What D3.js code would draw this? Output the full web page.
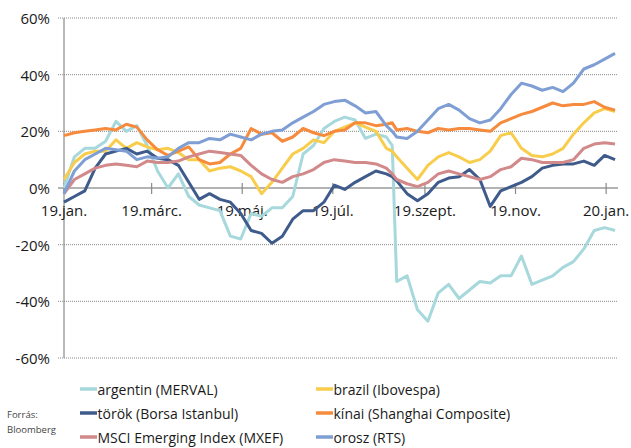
<!DOCTYPE html>
<html>
<head>
<meta charset="utf-8">
<script src="https://cdn.jsdelivr.net/npm/d3@7"></script>
<style>
  body { margin: 0; background: #fff; }
  text { font-family: "Open Sans", sans-serif; fill: #1a1a1a; }
</style>
</head>
<body>
<div class="chart"></div>
<script>
// napok 2019.01.01-tól (heti minták + a 2019.08.09-i nap)
var days = [0,7,14,21,28,35,42,49,56,63,70,77,84,91,98,105,112,119,126,133,140,147,154,161,168,175,182,189,196,203,210,217,221,
  224,231,238,245,252,259,266,273,280,287,294,301,308,315,322,329,336,343,350,357,364,371];

var argentin = [0,11,14,14,16.5,23.5,20,22,15,6,0,5,-3,-6,-7,-8,-17,-18,-9,-10,-7,-7,-3,12,15,21,23.5,25,24,17.5,19,18,15,
  -33,-31,-43,-47,-37,-34,-39,-36,-33,-33.5,-31,-31,-24,-34,-32.5,-31,-28,-26,-21.5,-15,-14,-15];
var brazil = [3,9,12,13,13,17,14,16,14.5,13.5,14,12.5,10,10,6,7,7.5,6,4,-2,2,7,12,14,17,16,20,21.5,23,21.5,20,14,13,
  11,7,3,8,11,12.5,11,9,10,13,18.5,19.5,14,11.5,11,12,14,19,23,26.5,28,27];
var torok = [-5,-3,-1,7,12,13,14,12,13,10.5,10,8,2,-4,-2,-4,-5,-9,-15,-16,-19.5,-17,-11,-8,-8,-5,1,-0.5,2,4,6,5,4,
  2.5,-2,-4.5,-2,2,3.5,4,6.5,3,-6.5,-1,0.5,2,4,7,8,8.5,8.5,9.5,8,11.5,10];
var kinai = [18.5,19.5,20,20.5,21,20.5,22.5,21.5,17,13.5,11.5,13,14.5,10,8.5,9,12,14,21,19,19.5,16.5,18,21,19.5,18.5,20,20.5,23,23,22,22.5,23,
  20.5,21,20,19.5,21,20.5,21,21,20.5,20,23,24.5,26,27,28.5,30,29,29.5,29.5,30.5,28.5,27.5];
var msci = [-2,3,5,7,8,8.5,8,7.5,9.5,9,9,9.5,11,12,13,12.5,12,11.5,8,5,3,2,4,5,6.5,9,10,9.5,9,9,8.5,7,5,
  3,1.5,0.5,2,5,6,5,4,3,4,6.5,7.5,10.5,10,9,9,9,10,14,15.5,16,15.5];
var orosz = [-2,6,10,12,14,13.5,13,10,11,10.5,11,14,16,16,17.5,17,19,18,17,19,20,20.5,23,25,27,29.5,30.5,31,29,26.5,27,22,20,
  18,17.5,20,24,28,29.5,27.5,24.5,23,24,28,33,37,36,34.5,35.5,34,37,42,43.5,45.5,47.5];

var seriesNames = ["argentin (MERVAL)","brazil (Ibovespa)","török (Borsa Istanbul)","kínai (Shanghai Composite)","MSCI Emerging Index (MXEF)","orosz (RTS)"];
var colors = ["#a6d8dc","#f8cd4c","#3e5b8c","#f68a3d","#d2898a","#7f9fd4"];
var yTicks = [-60,-40,-20,0,20,40,60];
var xTickDays = [0,59,120,181,243,304,365];
var xTickLabels = ["19.jan.","19.márc.","19.máj.","19.júl.","19.szept.","19.nov.","20.jan."];

var allSeries = [argentin, brazil, torok, kinai, msci, orosz];

var w = 631, h = 448;
var start = new Date(2019, 0, 1);
var toDate = d => d3.timeDay.offset(start, d);

var svg = d3.select(".chart").append("svg")
  .attr("width", w).attr("height", h);

var x = d3.scaleTime()
  .domain([start, toDate(373)])
  .range([64, 618]);
var y = d3.scaleLinear()
  .domain([-60, 60])
  .range([358, 18]);

// rácsvonalak
svg.append("g").selectAll("line")
  .data(yTicks.filter(v => v != 0))
  .enter().append("line")
  .attr("x1", 58).attr("x2", 618)
  .attr("y1", d => y(d)).attr("y2", d => y(d))
  .attr("stroke", "#8a8a8a")
  .attr("stroke-width", 1)
  .attr("stroke-dasharray", "1,1");

svg.append("g").selectAll("text")
  .data(yTicks)
  .enter().append("text")
  .attr("x", 50).attr("y", d => y(d))
  .attr("text-anchor", "end")
  .attr("dominant-baseline", "central")
  .attr("font-size", 15)
  .text(d => d + "%");

// függőleges tengely
svg.append("line")
  .attr("x1", 64).attr("x2", 64)
  .attr("y1", y(60)).attr("y2", y(-60))
  .attr("stroke", "#8a8a8a").attr("stroke-width", 1.2);

// nulla vonal + dátum osztások
svg.append("line")
  .attr("x1", 58).attr("x2", 618)
  .attr("y1", y(0)).attr("y2", y(0))
  .attr("stroke", "#9a9a9a").attr("stroke-width", 1.5);

svg.append("g").selectAll("line")
  .data(xTickDays)
  .enter().append("line")
  .attr("x1", d => x(toDate(d))).attr("x2", d => x(toDate(d)))
  .attr("y1", y(0) - 5).attr("y2", y(0) + 6)
  .attr("stroke", "#8a8a8a").attr("stroke-width", 1.2);

svg.append("g").selectAll("text")
  .data(xTickDays)
  .enter().append("text")
  .attr("x", d => x(toDate(d)))
  .attr("y", 216)
  .attr("text-anchor", "middle")
  .attr("font-size", 15)
  .text((d, i) => xTickLabels[i]);

// vonalak
var line = d3.line()
  .x((v, i) => x(toDate(days[i])))
  .y(v => y(v));

svg.append("g").selectAll("path")
  .data(allSeries)
  .enter().append("path")
  .attr("d", d => line(d))
  .attr("fill", "none")
  .attr("stroke", (d, i) => colors[i])
  .attr("stroke-width", 3)
  .attr("stroke-linejoin", "round");

// jelmagyarázat
var legend = svg.append("g").selectAll("g")
  .data(seriesNames)
  .enter().append("g")
  .attr("transform", (d, i) => "translate(" + (i % 2 == 0 ? 80 : 316) + "," + (389 + Math.floor(i / 2) * 24) + ")");

legend.append("line")
  .attr("x1", 0).attr("x2", 17)
  .attr("y1", 0).attr("y2", 0)
  .attr("stroke", (d, i) => colors[i])
  .attr("stroke-width", 3.5);

legend.append("text")
  .attr("x", 17.5).attr("y", 0)
  .attr("dominant-baseline", "central")
  .attr("font-size", 14)
  .text(d => d);

svg.append("text")
  .attr("x", 7).attr("y", 414)
  .attr("dominant-baseline", "central")
  .attr("font-size", 9.5)
  .style("fill", "#444")
  .text("Forrás:");
svg.append("text")
  .attr("x", 7).attr("y", 429)
  .attr("dominant-baseline", "central")
  .attr("font-size", 9.5)
  .style("fill", "#444")
  .text("Bloomberg");
</script>
</body>
</html>
